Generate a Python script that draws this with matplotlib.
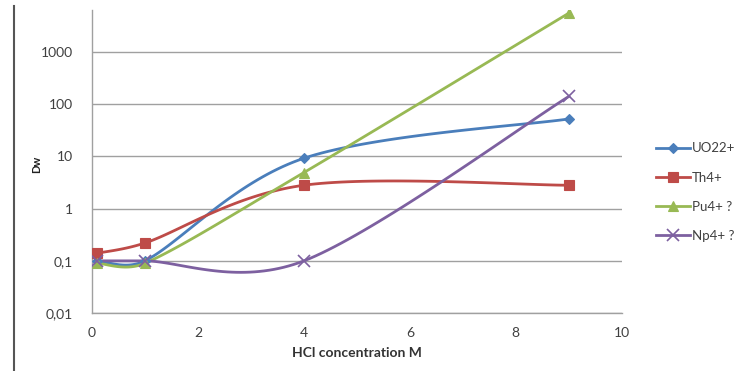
import numpy as np
import matplotlib
matplotlib.use("Agg")
import matplotlib.pyplot as plt
from matplotlib.lines import Line2D
from matplotlib.ticker import FixedLocator, FixedFormatter

plt.rcParams['font.family'] = ['Lato', 'DejaVu Sans']

x = [0.1, 1, 4, 9]
series = ["UO22+", "Th4+", "Pu4+ ?", "Np4+ ?"]
uo2 = [0.1, 0.1, 9.2, 52]
th = [0.14, 0.22, 2.8, 2.8]
pu = [0.09, 0.09, 4.9, 5500]
np4 = [0.1, 0.1, 0.1, 140]

colors = ['#4A7EBB', '#BE4B48', '#98B954', '#7D60A0']
markers = ['D', 's', '^', 'x']
msizes = [5, 7, 7, 8]

ytick_vals = [0.01, 0.1, 1, 10, 100, 1000]
ytick_labels = ["0,01", "0,1", "1", "10", "100", "1000"]
xtick_vals = [0, 2, 4, 6, 8, 10]


def smooth(xs, ys, n=40):
    # Excel-like smoothed line: bezier through the points in (x, log y)
    pts = np.column_stack([xs, np.log10(ys)])
    out = []
    for i in range(len(pts) - 1):
        p0 = pts[max(i - 1, 0)]
        p1 = pts[i]
        p2 = pts[i + 1]
        p3 = pts[min(i + 2, len(pts) - 1)]
        chord = np.hypot(*(p2 - p1))
        t1 = (p2 - p0) / 6
        t2 = (p3 - p1) / 6
        # keep control arms short on short segments
        for t in (t1, t2):
            L = np.hypot(*t)
            if L > 0.45 * chord:
                t *= 0.45 * chord / L
        c1 = p1 + t1
        c2 = p2 - t2
        t = np.linspace(0, 1, n)[:, None]
        seg = ((1 - t) ** 3) * p1 + 3 * ((1 - t) ** 2) * t * c1 \
            + 3 * (1 - t) * t ** 2 * c2 + t ** 3 * p2
        out.append(seg)
    out = np.vstack(out)
    return out[:, 0], 10 ** out[:, 1]


fig = plt.figure(figsize=(7.42, 3.71), dpi=100)
ax = fig.add_axes([0.124, 0.156, 0.714, 0.817])

handles = []
for ys, name, c, m, ms in zip([uo2, th, pu, np4], series, colors, markers, msizes):
    sx, sy = smooth(x, ys)
    mew = 1.2 if m == 'x' else 0.8
    ax.plot(sx, sy, color=c, lw=2, zorder=3)
    ax.plot(x, ys, ls='none', marker=m, color=c, ms=ms, mew=mew, zorder=4)
    handles.append(Line2D([], [], color=c, lw=2, marker=m, ms=ms, mew=mew))

ax.set_yscale('log')
ax.set_ylim(0.01, 10 ** 3.8)
ax.set_xlim(0, 10)
ax.yaxis.set_major_locator(FixedLocator(ytick_vals))
ax.yaxis.set_major_formatter(FixedFormatter(ytick_labels))
ax.yaxis.set_minor_locator(FixedLocator([]))
ax.set_xticks(xtick_vals)
ax.set_xticklabels([str(v) for v in xtick_vals])
ax.tick_params(length=0, labelsize=10, colors='#404040')
ax.tick_params(axis='y', pad=14)
ax.tick_params(axis='x', pad=10)
ax.grid(axis='y', color='#A0A0A0', lw=1)
for s in ['top', 'right']:
    ax.spines[s].set_visible(False)
for s in ['left', 'bottom']:
    ax.spines[s].set_color('#A0A0A0')
    ax.spines[s].set_linewidth(1)

ax.set_xlabel("HCl concentration M", fontsize=10, fontweight='bold', color='#333333', labelpad=6)
ax.set_ylabel("Dw", fontsize=8, fontweight='bold', color='#222222')
ax.yaxis.set_label_coords(-0.095, 0.49)

fig.legend(handles, series, loc='center left', bbox_to_anchor=(0.868, 0.482),
           frameon=False, fontsize=9.5, handlelength=2.6, labelspacing=1.3,
           handletextpad=0.15, labelcolor='#404040')

fig.add_artist(Line2D([0.019, 0.019], [0, 0.985], transform=fig.transFigure,
                      color='#555555', lw=1.5))

fig.savefig("out.png", dpi=100)
